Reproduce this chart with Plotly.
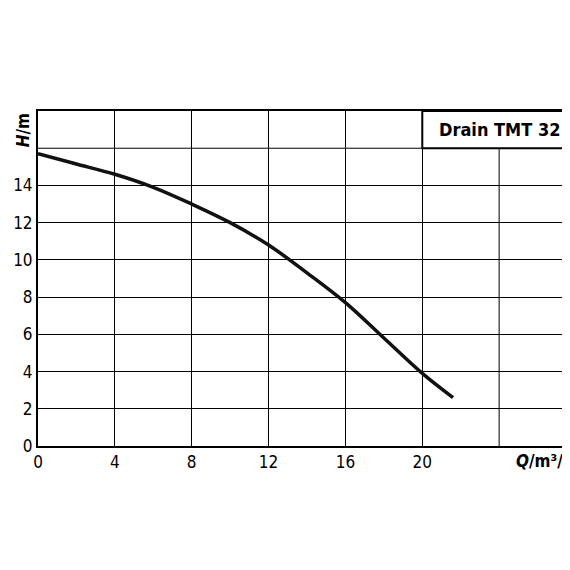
import plotly.graph_objects as go

q = [0, 2, 4, 6, 8, 10, 12, 14, 16, 18, 20, 21.6]
h = [15.7, 15.15, 14.6, 13.9, 13.0, 12.0, 10.8, 9.3, 7.7, 5.8, 3.9, 2.6]
xticks = [0, 4, 8, 12, 16, 20]
yticks = [0, 2, 4, 6, 8, 10, 12, 14]
title = "Drain TMT 32"

font = "DejaVu Sans Condensed"
fig = go.Figure()
fig.add_trace(go.Scatter(x=q, y=h, mode="lines", line=dict(color="#111", width=3.5, shape="spline"), hoverinfo="skip"))
fig.update_layout(
    width=570, height=570, margin=dict(l=30, r=2, t=103, b=132, autoexpand=False),
    paper_bgcolor="white", plot_bgcolor="white", showlegend=False,
    font=dict(family=font, size=17, color="black"),
)
fig.update_xaxes(range=[0, 28], tickmode="array", tickvals=xticks, ticktext=[str(v) for v in xticks],
                 showgrid=True, gridcolor="black", gridwidth=1, automargin=False,
                 showline=True, linecolor="black", linewidth=2, mirror=True, zeroline=False,
                 ticks="", tickfont=dict(size=17))
fig.update_yaxes(range=[0, 18], tickvals=yticks, showgrid=True, gridcolor="black", gridwidth=1,
                 showline=True, linecolor="black", linewidth=2, mirror=True, zeroline=False,
                 ticks="", tickfont=dict(size=17), automargin=False)
fig.add_shape(type="line", x0=24, x1=24, y0=0, y1=18, line=dict(color="black", width=1), layer="below")
fig.add_shape(type="line", x0=0, x1=28, y0=16, y1=16, line=dict(color="black", width=1), layer="below")
fig.add_shape(type="rect", x0=20, x1=28, y0=16, y1=18, line=dict(color="black", width=2), fillcolor="white")
fig.add_annotation(x=24, y=17, text="<b>" + title + "</b>", showarrow=False, font=dict(size=18, family=font))
fig.add_annotation(xref="paper", yref="paper", x=-0.005, y=1.0, xanchor="right", yanchor="top",
                   text="<b><i>H</i>/m</b>", textangle=-90, showarrow=False, font=dict(size=17, family=font))
fig.add_annotation(xref="paper", yref="paper", x=1.0, y=-0.01, xanchor="right", yanchor="top",
                   text="<b><i>Q</i>/m³/h</b>", showarrow=False, font=dict(size=17, family=font))
fig.write_html("out.html")
